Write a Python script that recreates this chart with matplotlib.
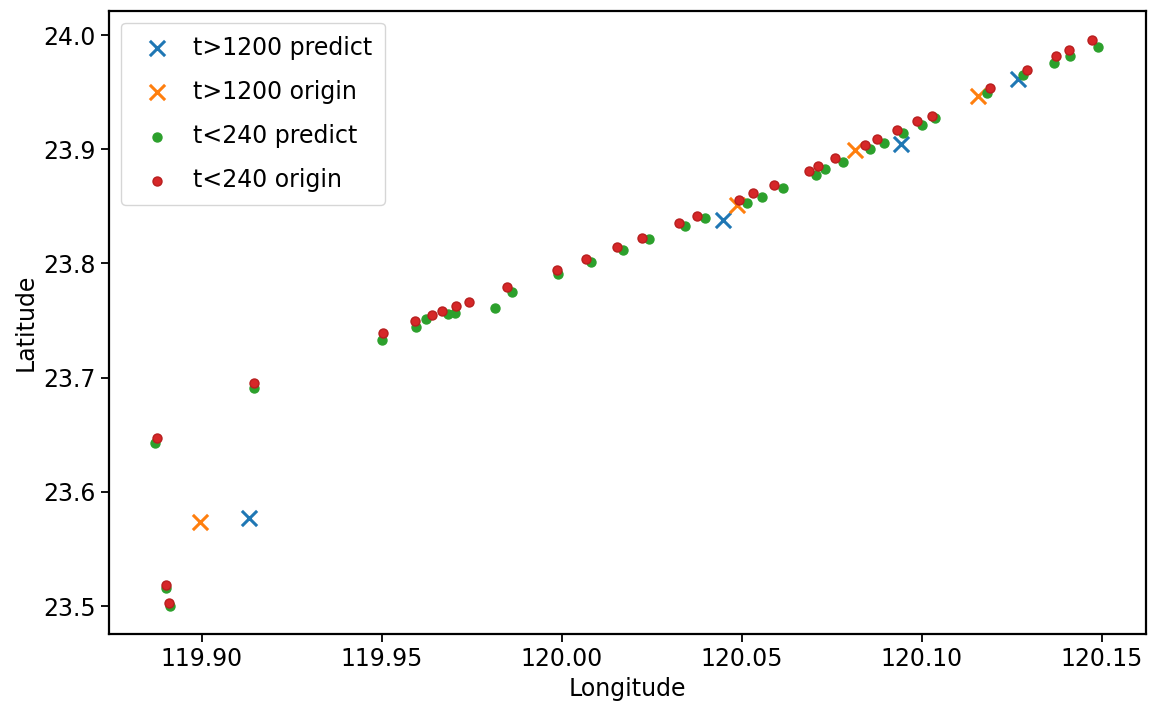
import matplotlib
matplotlib.use("Agg")
import matplotlib.pyplot as plt

# t>1200 crosses
pred_lon_1200 = [119.9131, 120.0447, 120.0944, 120.1268]
pred_lat_1200 = [23.5768, 23.8380, 23.9046, 23.9612]
orig_lon_1200 = [119.8997, 120.0486, 120.0815, 120.1157]
orig_lat_1200 = [23.5738, 23.8511, 23.8993, 23.9466]

# t<240 dots
pred_lon_240 = [119.8870, 119.8901, 119.8912, 119.9145, 119.9500, 119.9595, 119.9623,
                119.9685, 119.9704, 119.9814, 119.9863, 119.9991, 120.0083, 120.0171,
                120.0243, 120.0344, 120.0398, 120.0514, 120.0556, 120.0616, 120.0706,
                120.0731, 120.0782, 120.0856, 120.0895, 120.0949, 120.1000, 120.1037,
                120.1181, 120.1282, 120.1368, 120.1412, 120.1491]
pred_lat_240 = [23.6424, 23.5155, 23.5000, 23.6906, 23.7329, 23.7446, 23.7511,
                23.7554, 23.7568, 23.7612, 23.7747, 23.7907, 23.8015, 23.8117,
                23.8211, 23.8327, 23.8395, 23.8526, 23.8584, 23.8658, 23.8774,
                23.8824, 23.8891, 23.9000, 23.9052, 23.9139, 23.9212, 23.9271,
                23.9495, 23.9650, 23.9752, 23.9816, 23.9892]
orig_lon_240 = [119.8876, 119.8901, 119.8909, 119.9145, 119.9504, 119.9592, 119.9640,
                119.9669, 119.9706, 119.9744, 119.9849, 119.9986, 120.0068, 120.0153,
                120.0222, 120.0327, 120.0377, 120.0493, 120.0532, 120.0590, 120.0688,
                120.0713, 120.0759, 120.0843, 120.0875, 120.0931, 120.0986, 120.1028,
                120.1190, 120.1292, 120.1373, 120.1410, 120.1474]
orig_lat_240 = [23.6471, 23.5184, 23.5026, 23.6953, 23.7393, 23.7496, 23.7548,
                23.7586, 23.7631, 23.7666, 23.7793, 23.7942, 23.8036, 23.8146,
                23.8225, 23.8356, 23.8418, 23.8555, 23.8614, 23.8684, 23.8812,
                23.8856, 23.8926, 23.9037, 23.9087, 23.9168, 23.9247, 23.9291,
                23.9533, 23.9694, 23.9816, 23.9869, 23.9961]

xticks = [119.90, 119.95, 120.00, 120.05, 120.10, 120.15]
yticks = [23.5, 23.6, 23.7, 23.8, 23.9, 24.0]

fig = plt.figure(figsize=(11.5, 7.2), dpi=100)
ax = fig.add_axes([0.0948, 0.1194, 0.9017, 0.8656])

ax.scatter(pred_lon_1200, pred_lat_1200, marker='x', s=120, linewidths=2.2,
           color='#1f77b4', label='t>1200 predict')
ax.scatter(orig_lon_1200, orig_lat_1200, marker='x', s=120, linewidths=2.2,
           color='#ff7f0e', label='t>1200 origin')
ax.scatter(pred_lon_240, pred_lat_240, s=42, color='#2ca02c', label='t<240 predict')
ax.scatter(orig_lon_240, orig_lat_240, s=42, color='#d62728', edgecolors='#b81e1e',
           linewidths=1, label='t<240 origin')

ax.set_xlim(119.8743, 120.1623)
ax.set_ylim(23.4755, 24.0213)
ax.set_xticks(xticks)
ax.set_xticklabels(['%.2f' % v for v in xticks])
ax.set_yticks(yticks)
ax.set_yticklabels(['%.1f' % v for v in yticks])
ax.tick_params(labelsize=17, length=6, width=1.3)
for sp in ax.spines.values():
    sp.set_linewidth(1.6)

ax.set_xlabel('Longitude', fontsize=17, labelpad=4)
ax.set_ylabel('Latitude', fontsize=17)
ax.legend(loc='upper left', fontsize=17, labelspacing=0.85, handletextpad=0.5,
          borderpad=0.55, scatterpoints=1)

fig.savefig('out.png', dpi=100)
